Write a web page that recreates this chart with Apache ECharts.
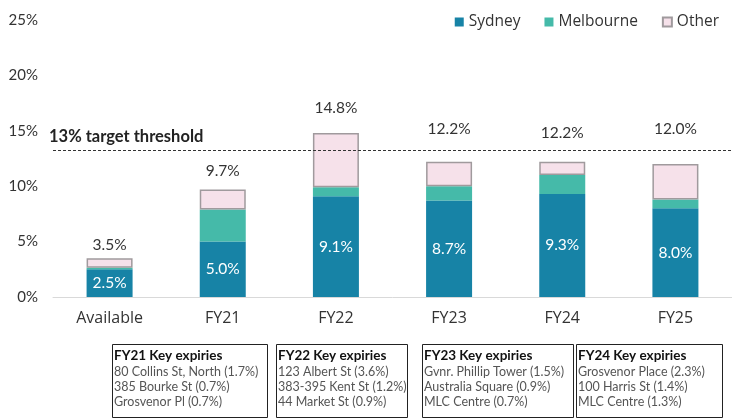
<!DOCTYPE html>
<html>
<head>
<meta charset="utf-8">
<script src="https://cdn.jsdelivr.net/npm/echarts@6/dist/echarts.min.js"></script>
<style>
  html, body { margin: 0; padding: 0; background: #fff; }
  #main { width: 732px; height: 419px; }
</style>
</head>
<body>
<div id="main"></div>
<script>
// categories and values (%)
var categories = ['Available', 'FY21', 'FY22', 'FY23', 'FY24', 'FY25'];
var sydney = [2.5, 5.0, 9.1, 8.7, 9.3, 8.0];
var melbourne = [0.15, 2.9, 0.8, 1.3, 1.7, 0.8];
var other = [0.85, 1.8, 4.9, 2.2, 1.2, 3.2];
var totals = [3.5, 9.7, 14.8, 12.2, 12.2, 12.0];
var threshold = 13.2;

// key expiry boxes
var boxTitles = ['FY21 Key expiries', 'FY22 Key expiries', 'FY23 Key expiries', 'FY24 Key expiries'];
var boxLines = [
    ['80 Collins St, North (1.7%)', '385 Bourke St (0.7%)', 'Grosvenor Pl (0.7%)'],
    ['123 Albert St (3.6%)', '383-395 Kent St (1.2%)', '44 Market St (0.9%)'],
    ['Gvnr. Phillip Tower (1.5%)', 'Australia Square (0.9%)', 'MLC Centre (0.7%)'],
    ['Grosvenor Place (2.3%)', '100 Harris St (1.4%)', 'MLC Centre (1.3%)']
];

// layout bits (not data)
var totalLabelGap = [5, 11, 17, 25, 21, 27];
var boxX = [112, 276, 422, 576];
var boxW = [155, 131, 151, 146];

var font = 'Lato, "Noto Sans", sans-serif';
var wideFont = '"Open Sans", "Noto Sans", sans-serif';
var chart = echarts.init(document.getElementById('main'));

var graphics = [];
boxTitles.forEach(function (t, i) {
    graphics.push({
        type: 'rect',
        left: boxX[i], top: 344,
        shape: { width: boxW[i], height: 73 },
        style: { fill: '#fff', stroke: '#222', lineWidth: 1 }
    });
    graphics.push({
        type: 'text',
        left: boxX[i] + 2, top: 348.5,
        style: { text: t, font: 'bold 13.5px ' + font, fill: '#111' }
    });
    boxLines[i].forEach(function (line, k) {
        graphics.push({
            type: 'text',
            left: boxX[i] + 2, top: 365.5 + k * 15,
            style: { text: line, font: '12.5px ' + font, fill: '#555' }
        });
    });
});

var otherData = other.map(function (v, i) {
    return { value: v, label: { distance: totalLabelGap[i] } };
});

var option = {
    textStyle: { fontFamily: font },
    animation: false,
    grid: { left: 53, right: -8, top: 20, bottom: 122 },
    legend: {
        right: 8, top: 9,
        itemWidth: 9, itemHeight: 9, itemGap: 24,
        icon: 'rect',
        textStyle: { fontSize: 15.5, color: '#333', fontFamily: wideFont },
        data: ['Sydney', 'Melbourne', 'Other']
    },
    xAxis: {
        type: 'category',
        data: categories,
        axisTick: { show: false },
        axisLine: { lineStyle: { color: '#d9d9d9' } },
        axisLabel: { fontSize: 16, color: '#333', margin: 13, fontFamily: wideFont }
    },
    yAxis: {
        type: 'value',
        min: 0, max: 25, interval: 5,
        splitLine: { show: false },
        axisLabel: { fontSize: 15, color: '#333', formatter: '{value}%', margin: 15 }
    },
    series: [
        {
            name: 'Sydney', type: 'bar', stack: 'a', barWidth: 46,
            data: sydney,
            itemStyle: { color: '#1783A6' },
            label: {
                show: true, position: 'inside', color: '#fff', fontSize: 15.5,
                formatter: function (p) { return p.value.toFixed(1) + '%'; }
            },
            markLine: {
                silent: true, symbol: 'none',
                lineStyle: { type: [3, 2], color: '#333', width: 1 },
                label: {
                    position: 'insideStartTop', formatter: '13% target threshold',
                    fontWeight: 'bold', fontSize: 16.5, color: '#222', distance: [-4, 6]
                },
                data: [{ yAxis: threshold }]
            }
        },
        {
            name: 'Melbourne', type: 'bar', stack: 'a',
            data: melbourne,
            itemStyle: { color: '#45BAA9' }
        },
        {
            name: 'Other', type: 'bar', stack: 'a',
            data: otherData,
            itemStyle: { color: '#F6E1EA', borderColor: '#A09A9D', borderWidth: 1.5 },
            label: {
                show: true, position: 'top', color: '#333', fontSize: 15.5,
                formatter: function (p) { return totals[p.dataIndex].toFixed(1) + '%'; }
            }
        }
    ],
    graphic: graphics
};
chart.setOption(option);
</script>
</body>
</html>
